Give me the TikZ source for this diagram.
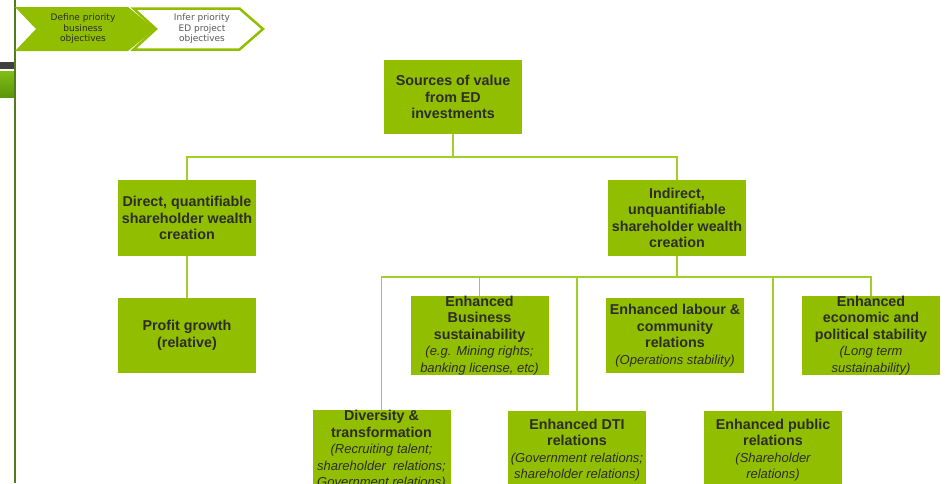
\documentclass[tikz,border=0pt]{standalone}
\usepackage{fontspec}
\setmainfont{Liberation Sans}
\newfontfamily\chevfont{DejaVu Sans}
\definecolor{boxgreen}{RGB}{146,190,0}
\definecolor{linegreen}{RGB}{162,206,42}
\definecolor{txt}{RGB}{45,45,40}
\definecolor{edgegreen}{RGB}{84,124,30}
\tikzset{
  box/.style={rectangle, fill=boxgreen, minimum width=138pt, minimum height=75pt, inner sep=0pt, align=center, text=txt, font=\fontsize{14.3}{16.5}\selectfont\bfseries},
  lowbox/.style={box, minimum height=78pt},
  conn/.style={draw=linegreen, line width=1.8pt},
  chevtext/.style={align=center, font=\chevfont\fontsize{9}{10.5}\selectfont, inner sep=0pt}
}
\newcommand{\subtxt}[1]{{\fontsize{13}{15}\selectfont\mdseries\itshape #1}}
\begin{document}
\begin{tikzpicture}[x=1pt,y=-1pt]
\useasboundingbox (0,0) rectangle (950,483);
\clip (0,0) rectangle (950,483);
\fill[white] (0,0) rectangle (950,483);
% left edge decoration
\fill[black!75] (0,62) rectangle (15,69);
\shade[top color={rgb,255:red,130;green,190;blue,20}, bottom color={rgb,255:red,90;green,150;blue,10}] (0,71) rectangle (15,97);
\draw[edgegreen, line width=1.2pt] (15,0) -- (15,483);
% chevrons
\fill[boxgreen] (15,7) -- (128,7) -- (155,29) -- (128,51) -- (15,51) -- (36,29) -- cycle;
\node[chevtext, text=txt] (c1) at (83,29) {Define priority\\business\\objectives};
\draw[boxgreen, line width=2.5pt, fill=white, line join=miter] (133.5,8.5) -- (239.5,8.5) -- (263,29) -- (239.5,49.5) -- (133.5,49.5) -- (156,29) -- cycle;
\node[chevtext, text=black!65] (c2) at (202,29) {Infer priority\\ED project\\objectives};
% boxes
\node[box, minimum height=74pt] (root) at (453,97) {Sources of value\\from ED\\investments};
\node[box, minimum height=76pt] (direct) at (187,218) {Direct, quantifiable\\shareholder wealth\\creation};
\node[box, minimum height=76pt] (indirect) at (677,218) {Indirect,\\unquantifiable\\shareholder wealth\\creation};
\node[box] (profit) at (187,335.5) {Profit growth\\(relative)};
\node[box] (business) at (479.5,335.5) {Enhanced\\Business\\sustainability\\\subtxt{(e.g. Mining rights;}\\\subtxt{banking license, etc)}};
\node[box] (labour) at (675,335.5) {Enhanced labour \&\\community\\relations\\\subtxt{(Operations stability)}};
\node[box] (econ) at (871,335.5) {Enhanced\\economic and\\political stability\\\subtxt{(Long term}\\\subtxt{sustainability)}};
\node[lowbox] (div) at (381.5,450) {Diversity \&\\transformation\\\subtxt{(Recruiting talent;}\\\subtxt{shareholder~ relations;}\\\subtxt{Government relations)}};
\node[lowbox] (dti) at (577,450) {Enhanced DTI\\relations\\\subtxt{(Government relations;}\\\subtxt{shareholder relations)}};
\node[lowbox] (public) at (773,450) {Enhanced public\\relations\\\subtxt{(Shareholder}\\\subtxt{relations)}};
% connectors
\coordinate (b1) at (453,157);
\coordinate (b2) at (677,277);
\draw[conn] (root.south) -- (b1);
\draw[conn] (b1) -| (direct.north);
\draw[conn] (b1) -| (indirect.north);
\draw[conn] (direct.south) -- (profit.north);
\draw[conn] (indirect.south) -- (b2);
\draw[conn] (b2) -| (div.north);
\draw[conn] (b2) -| (business.north);
\draw[conn] (b2) -| (dti.north);
\draw[conn] (b2) -| (public.north);
\draw[conn] (b2) -| (econ.north);
\end{tikzpicture}
\end{document}
